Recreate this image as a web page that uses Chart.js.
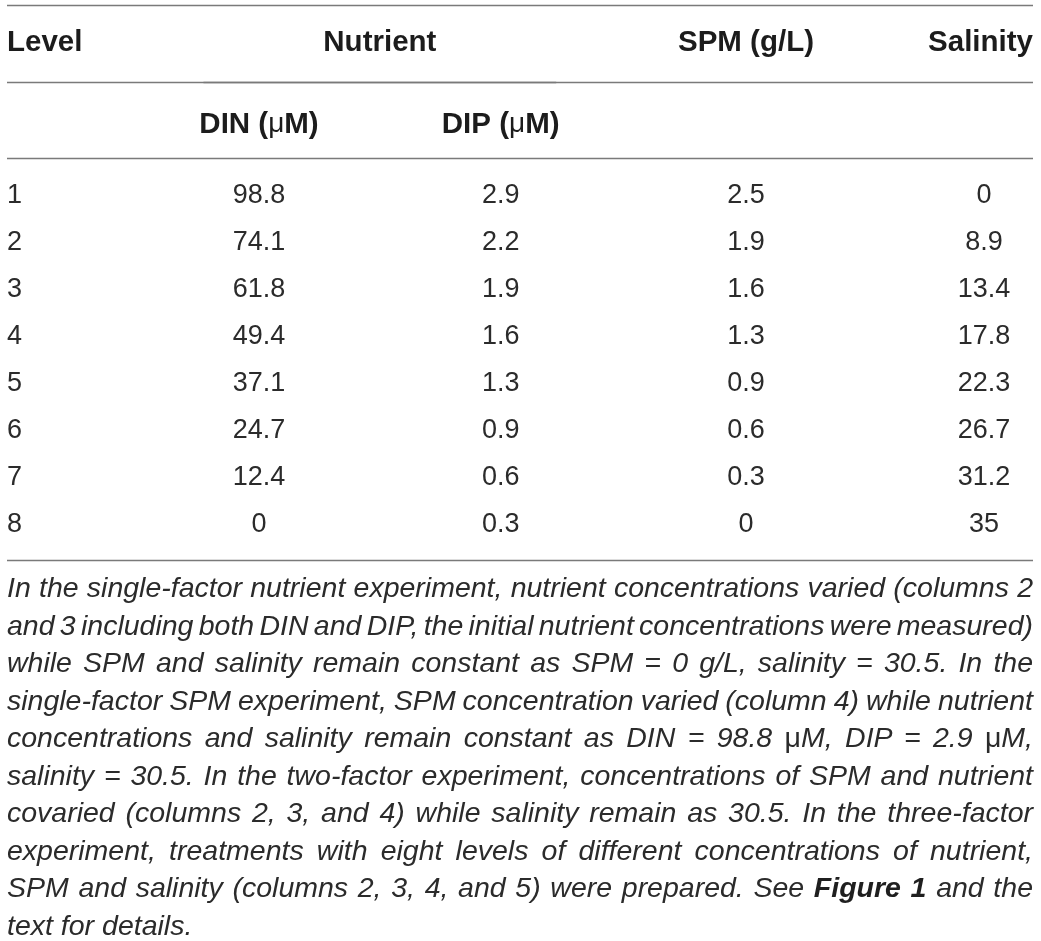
<!DOCTYPE html>
<html>
<head>
<meta charset="utf-8">
<script src="https://cdn.jsdelivr.net/npm/chart.js@4/dist/chart.umd.min.js"></script>
<style>
  html, body { margin: 0; padding: 0; background: #fff; }
  body { width: 1041px; height: 941px; position: relative; overflow: hidden; }
  #wrap { position: absolute; left: 0; top: 0; width: 1041px; height: 570px; }
  #caption {
    position: absolute; left: 7px; top: 569px; width: 1026px;
    font-family: "Liberation Sans", Arial, Helvetica, sans-serif;
    font-style: italic; font-size: 28.5px; line-height: 37.5px; color: #2b2b2b;
  }
  #caption .ln { white-space: nowrap; }
  #caption .ln span.inner { white-space: nowrap; }
  #caption .mu { font-style: normal; }
  #caption b { font-weight: bold; color: #1f1f1f; }
</style>
</head>
<body>
<div id="wrap"><canvas id="c" width="1041" height="570"></canvas></div>
<div id="caption">
  <div class="ln"><span class="inner">In the single-factor nutrient experiment, nutrient concentrations varied (columns 2</span></div>
  <div class="ln"><span class="inner">and 3 including both DIN and DIP, the initial nutrient concentrations were measured)</span></div>
  <div class="ln"><span class="inner">while SPM and salinity remain constant as SPM = 0 g/L, salinity = 30.5. In the</span></div>
  <div class="ln"><span class="inner">single-factor SPM experiment, SPM concentration varied (column 4) while nutrient</span></div>
  <div class="ln"><span class="inner">concentrations and salinity remain constant as DIN = 98.8 <span class="mu">μ</span>M, DIP = 2.9 <span class="mu">μ</span>M,</span></div>
  <div class="ln"><span class="inner">salinity = 30.5. In the two-factor experiment, concentrations of SPM and nutrient</span></div>
  <div class="ln"><span class="inner">covaried (columns 2, 3, and 4) while salinity remain as 30.5. In the three-factor</span></div>
  <div class="ln"><span class="inner">experiment, treatments with eight levels of different concentrations of nutrient,</span></div>
  <div class="ln"><span class="inner">SPM and salinity (columns 2, 3, 4, and 5) were prepared. See <b>Figure 1</b> and the</span></div>
  <div class="last"><span class="inner">text for details.</span></div>
</div>
<script>
// ---------- data ----------
const levels   = [1, 2, 3, 4, 5, 6, 7, 8];
const din      = ["98.8", "74.1", "61.8", "49.4", "37.1", "24.7", "12.4", "0"];
const dip      = ["2.9", "2.2", "1.9", "1.6", "1.3", "0.9", "0.6", "0.3"];
const spm      = ["2.5", "1.9", "1.6", "1.3", "0.9", "0.6", "0.3", "0"];
const salinity = ["0", "8.9", "13.4", "17.8", "22.3", "26.7", "31.2", "35"];
const columnHeaders = ["Level", "DIN (μM)", "DIP (μM)", "SPM (g/L)", "Salinity"];
const groupHeader = "Nutrient";

// ---------- layout ----------
const FONT = '"Liberation Sans", Arial, Helvetica, sans-serif';
const DATA_FONT = '27px ' + FONT;
const HEAD_FONT = 'bold 29.5px ' + FONT;
const MU_FONT = '28px ' + FONT;
const TEXT_COLOR = '#2b2b2b';
const HEAD_COLOR = '#1c1c1c';
const RULE_COLOR = '#7a7a7a';
// row positions in row units on the y scale
const HEAD1_Y = -2.23, HEAD2_Y = -0.5;
const RULES_Y = [-3.04, -1.4, 0.215, 8.74];
const NUTRIENT_RULE = [0.77, 2.23]; // x extent (column units)

function splitMu(str) {
  const parts = str.split('μ');
  const segs = [];
  parts.forEach((p, i) => {
    if (p) segs.push({ t: p, mu: false });
    if (i < parts.length - 1) segs.push({ t: 'μ', mu: true });
  });
  return segs;
}
function drawRich(ctx, str, x, y, align) {
  const segs = splitMu(str);
  let w = 0;
  segs.forEach(s => { ctx.font = s.mu ? MU_FONT : HEAD_FONT; s.w = ctx.measureText(s.t).width; w += s.w; });
  let sx = align === 'center' ? x - w / 2 : align === 'right' ? x - w : x;
  ctx.textAlign = 'left';
  segs.forEach(s => { ctx.font = s.mu ? MU_FONT : HEAD_FONT; ctx.fillText(s.t, sx, y); sx += s.w; });
}

const tablePlugin = {
  id: 'tablePlugin',
  afterDraw(chart) {
    const ctx = chart.ctx, xs = chart.scales.x, ys = chart.scales.y, area = chart.chartArea;
    ctx.save();
    // rules
    ctx.strokeStyle = RULE_COLOR; ctx.lineWidth = 1.4;
    RULES_Y.forEach(v => {
      const py = Math.round(ys.getPixelForValue(v)) + 0.5;
      ctx.beginPath(); ctx.moveTo(area.left, py); ctx.lineTo(area.right, py); ctx.stroke();
    });
    const ny = Math.round(ys.getPixelForValue(-1.4)) + 0.5;
    ctx.beginPath();
    ctx.moveTo(xs.getPixelForValue(NUTRIENT_RULE[0]), ny);
    ctx.lineTo(xs.getPixelForValue(NUTRIENT_RULE[1]), ny);
    ctx.stroke();

    // headers
    ctx.fillStyle = HEAD_COLOR; ctx.textBaseline = 'middle';
    const h1 = ys.getPixelForValue(HEAD1_Y), h2 = ys.getPixelForValue(HEAD2_Y);
    drawRich(ctx, columnHeaders[0], area.left, h1, 'left');
    drawRich(ctx, groupHeader, (xs.getPixelForValue(1) + xs.getPixelForValue(2)) / 2, h1, 'center');
    drawRich(ctx, columnHeaders[1], xs.getPixelForValue(1), h2, 'center');
    drawRich(ctx, columnHeaders[2], xs.getPixelForValue(2), h2, 'center');
    drawRich(ctx, columnHeaders[3], xs.getPixelForValue(3.015), h1, 'center');
    drawRich(ctx, columnHeaders[4], area.right, h1, 'right');

    // level labels (first column, left aligned)
    ctx.font = DATA_FONT; ctx.fillStyle = TEXT_COLOR; ctx.textAlign = 'left';
    levels.forEach(l => ctx.fillText(String(l), area.left, ys.getPixelForValue(l)));

    // cell values, positioned by the dataset points
    ctx.textAlign = 'center';
    chart.data.datasets.forEach((ds, di) => {
      const meta = chart.getDatasetMeta(di);
      meta.data.forEach((pt, i) => {
        ctx.fillText(ds.cellText[i], pt.x, pt.y);
      });
    });
    ctx.restore();
  }
};

const cols = [din, dip, spm, salinity];
const colPos = [1, 2, 3.015, 4];
const datasets = cols.map((col, ci) => ({
  label: columnHeaders[ci + 1],
  data: levels.map(l => ({ x: colPos[ci], y: l })),
  cellText: col,
  pointRadius: 0, pointHoverRadius: 0, showLine: false
}));

new Chart(document.getElementById('c'), {
  type: 'scatter',
  data: { datasets },
  options: {
    responsive: false, animation: false, devicePixelRatio: 1,
    events: [],
    layout: { padding: { left: 7, right: 8, top: 0, bottom: 0 } },
    plugins: { legend: { display: false }, tooltip: { enabled: false } },
    scales: {
      x: { type: 'linear', display: false, min: -0.0428, max: 4.2027 },
      y: { type: 'linear', display: false, reverse: true, min: -3.146, max: 8.955 }
    }
  },
  plugins: [tablePlugin]
});

// ---------- justify caption lines ----------
const W = 1026;
document.querySelectorAll('#caption .ln').forEach(ln => {
  const inner = ln.querySelector('.inner');
  const text = inner.textContent;
  const spaces = (text.match(/ /g) || []).length;
  const natural = inner.getBoundingClientRect().width;
  if (spaces > 0) inner.style.wordSpacing = ((W - natural) / spaces) + 'px';
});
</script>
</body>
</html>
